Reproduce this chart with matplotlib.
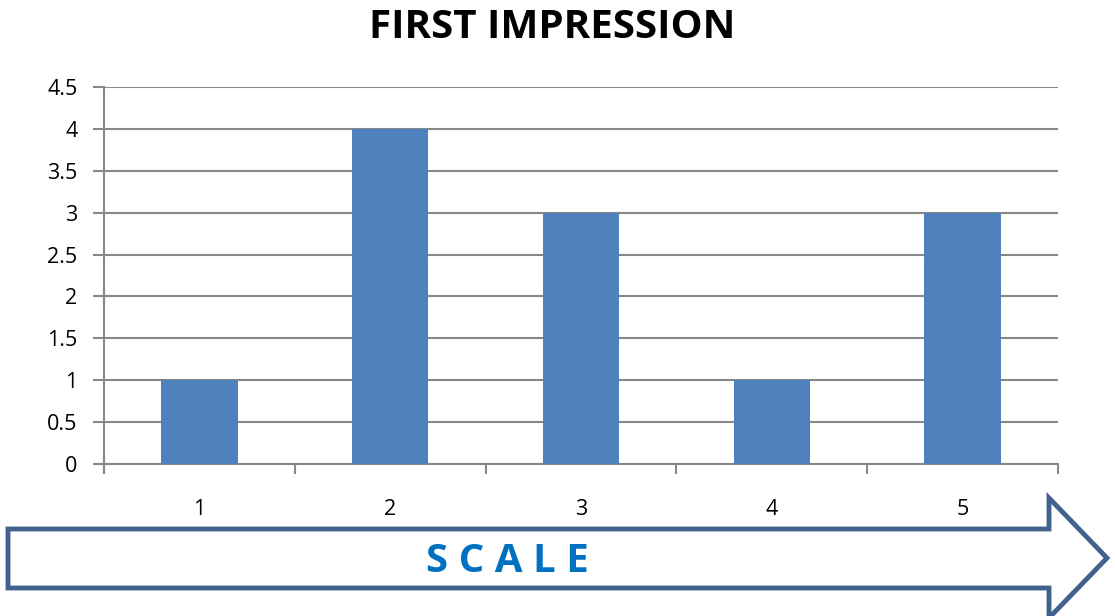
import matplotlib
matplotlib.use("Agg")
import matplotlib.pyplot as plt
from matplotlib.patches import Polygon

categories = ["1", "2", "3", "4", "5"]
values = [1, 4, 3, 1, 3]
yticks = [0, 0.5, 1, 1.5, 2, 2.5, 3, 3.5, 4, 4.5]
ytick_labels = ["0", "0.5", "1", "1.5", "2", "2.5", "3", "3.5", "4", "4.5"]
title = "FIRST IMPRESSION"
arrow_label = "S C A L E"

W, H = 1115, 616
fig = plt.figure(figsize=(W / 100, H / 100), dpi=100)
plt.rcParams['font.family'] = ['Open Sans', 'DejaVu Sans']

def fx(x):
    return x / W

def fy(y):
    return 1 - y / H

ax = fig.add_axes([fx(104), fy(464), fx(1058) - fx(104), fy(87) - fy(464)])
grid_c = "#888888"
x = list(range(len(categories)))
ax.bar(x, values, width=0.4, color="#4F81BD", zorder=3)
ax.set_xlim(-0.5, len(categories) - 0.5)
ax.set_ylim(0, 4.5)
ax.set_yticks(yticks)
ax.set_yticklabels(ytick_labels, fontsize=15.5)
ax.set_xticks(x)
ax.set_xticklabels(categories, fontsize=15.5)
ax.tick_params(axis='x', length=0, pad=25)
ax.set_xticks([i - 0.5 for i in range(len(categories) + 1)], minor=True)
ax.tick_params(axis='x', which='minor', length=7, color=grid_c, width=1.5)
ax.tick_params(axis='y', length=8, color=grid_c, width=1.5, pad=11)
for v in yticks:
    ax.axhline(v, color=grid_c, lw=1.5, zorder=1)
for s in ["top", "right"]:
    ax.spines[s].set_visible(False)
for s in ["left", "bottom"]:
    ax.spines[s].set_color(grid_c)
    ax.spines[s].set_linewidth(1.5)

fig.text(fx(552), fy(27), title, ha="center", va="center", fontsize=29,
         fontweight="bold", color="black")

pts = [(8, 529), (1049, 529), (1049, 498), (1107, 558), (1049, 618),
       (1049, 588), (8, 588)]
poly = Polygon([(fx(a), fy(b)) for a, b in pts], closed=True,
               transform=fig.transFigure, facecolor="white",
               edgecolor="#41628E", linewidth=3.5, clip_on=False)
fig.patches.append(poly)
fig.text(fx(507), fy(561), arrow_label, ha="center", va="center", fontsize=29,
         fontweight="bold", color="#0070C0")

fig.savefig("out.png", dpi=100)
